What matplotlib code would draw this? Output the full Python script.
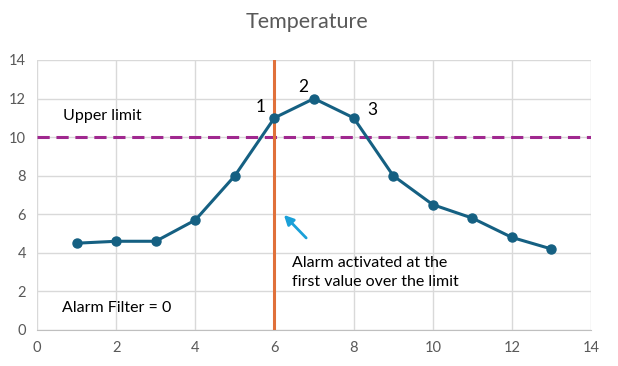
import matplotlib
matplotlib.use("Agg")
import matplotlib.pyplot as plt

plt.rcParams['font.family'] = ['Lato', 'DejaVu Sans']

# sample index and measured temperature
x = [1, 2, 3, 4, 5, 6, 7, 8, 9, 10, 11, 12, 13]
temp = [4.5, 4.6, 4.6, 5.7, 8, 11, 12, 11, 8, 6.5, 5.8, 4.8, 4.2]
upper_limit = 10
alarm_x = 6
ticks = [0, 2, 4, 6, 8, 10, 12, 14]

fig = plt.figure(figsize=(6.18, 3.66), dpi=100)
ax = fig.add_axes([0.0599, 0.0984, 0.8965, 0.7377])

ax.set_xlim(0, 14)
ax.set_ylim(0, 14)
ax.set_xticks(ticks)
ax.set_yticks(ticks)
ax.grid(True, color='#D9D9D9', linewidth=1)
ax.set_axisbelow(True)
for s in ['top', 'right', 'left']:
    ax.spines[s].set_visible(False)
ax.spines['bottom'].set_color('#BFBFBF')
ax.tick_params(length=0, labelsize=10.5, labelcolor='#595959', pad=8)

ax.axhline(upper_limit, color='#A0288F', linestyle=(0, (4, 2.2)), linewidth=2.2, zorder=2)
ax.axvline(alarm_x, color='#E0703A', linewidth=2.2, zorder=3)
ax.plot(x, temp, color='#156082', linewidth=2.2, marker='o', markersize=6.5, zorder=4)

fig.text(0.497, 0.94, 'Temperature', fontsize=15.5, color='#595959', ha='center', va='center')

ax.text(0.66, 11.1, 'Upper limit', fontsize=11.5, va='center', ha='left')
ax.text(0.62, 1.14, 'Alarm Filter = 0', fontsize=11.5, va='center', ha='left')
ax.text(6.44, 3.0, 'Alarm activated at the\nfirst value over the limit', fontsize=11.5,
        va='center', ha='left', linespacing=1.45)
ax.text(5.66, 11.56, '1', fontsize=12.5, va='center', ha='center')
ax.text(6.72, 12.6, '2', fontsize=12.5, va='center', ha='center')
ax.text(8.47, 11.4, '3', fontsize=12.5, va='center', ha='center')

ax.annotate('', xy=(6.19, 6.07), xytext=(6.85, 4.67),
            arrowprops=dict(arrowstyle='-|>', color='#1AA0D8', lw=2, mutation_scale=14))

fig.savefig('out.png', dpi=100)
